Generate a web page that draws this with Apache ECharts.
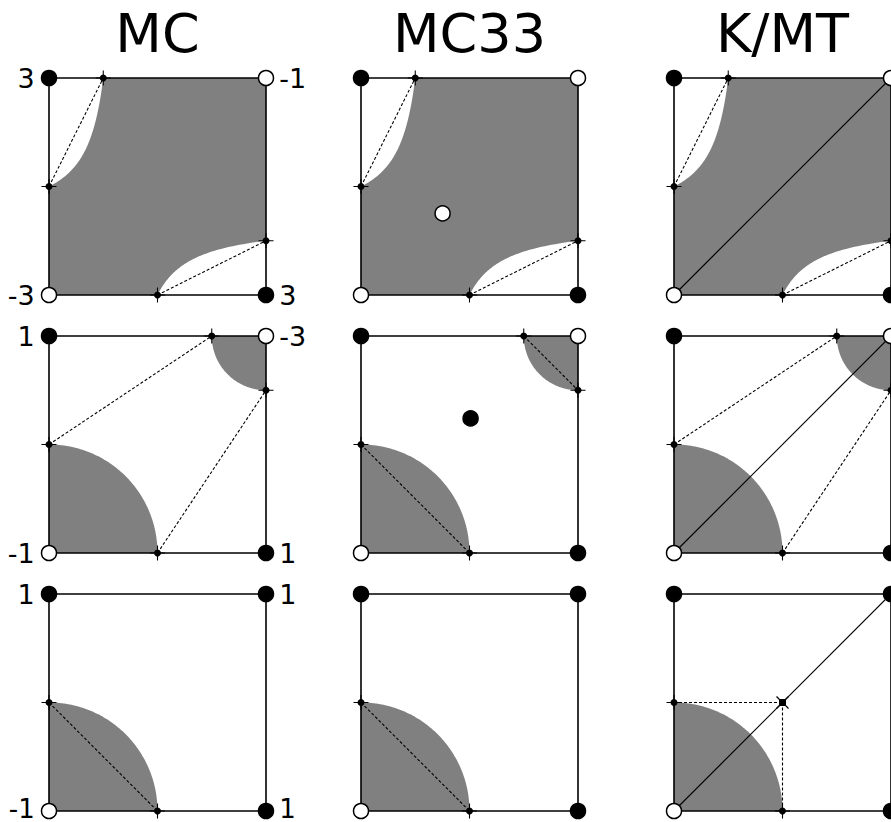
<!DOCTYPE html>
<html>
<head>
<meta charset="utf-8">
<title>MC / MC33 / K/MT</title>
<script src="https://cdn.jsdelivr.net/npm/echarts@6/dist/echarts.min.js"></script>
<style>
  html, body { margin: 0; padding: 0; background: #fff; }
  #chart { width: 891px; height: 822px; }
</style>
</head>
<body>
<div id="chart"></div>
<script>
// column titles
const titles = ['MC', 'MC33', 'K/MT'];
// corner values per row: [TL, TR, BL, BR]
const cornerValues = [
  [3, -1, -3, 3],
  [1, -3, -1, 1],
  [1, 1, -1, 1]
];
// edge crossings, as a fraction along the edge (from the bottom / from the left)
const leftCross = [0.5, 0.5, 0.5];
const topCross = [0.25, 0.75, null];
const rightCross = [0.25, 0.75, null];
const bottomCross = [0.5, 0.5, 0.5];
// how the gray part of each row is shaded
const shading = ['bilinear', 'discs', 'discs'];
// extra points of the MC33 column: [u, v, sign]
const mc33Points = [[0.376, 0.376, -1], [0.505, 0.62, 1], null];

// panel layout
const colLeft = [49, 361, 674];
const rowTop = [78, 336, 594];
const size = 217;

const FONT = 'DejaVu Sans';
const GRAY = '#808080';
const cornerPos = [[0, 1], [1, 1], [0, 0], [1, 0]];

// gray area of one row
function grayPolygons(r) {
  const vl = leftCross[r], ub = bottomCross[r], ut = topCross[r], vr = rightCross[r];
  const N = 80;
  if (shading[r] === 'bilinear') {
    // bilinear field through the four crossings, negative part is gray
    const a = -1;
    const c = a * (1 - 1 / vl);
    const b = a * (1 - 1 / ub);
    const d = c * (1 - 1 / ut);
    const uAt = v => -(a * (1 - v) + c * v) / ((b - a) * (1 - v) + (d - c) * v);
    const pts = [[0, 0], [0, vl]];
    for (let i = 1; i < N; i++) {
      const v = vl + (1 - vl) * i / N;
      pts.push([uAt(v), v]);
    }
    pts.push([ut, 1], [1, 1], [1, vr]);
    for (let i = 1; i < N; i++) {
      const v = vr - vr * i / N;
      pts.push([uAt(v), v]);
    }
    pts.push([ub, 0]);
    return [pts];
  }
  const polys = [];
  const r1 = vl;
  const low = [[0, 0]];
  for (let i = 0; i <= N; i++) {
    const t = Math.PI / 2 * i / N;
    low.push([r1 * Math.sin(t), r1 * Math.cos(t)]);
  }
  polys.push(low);
  if (ut != null) {
    const r2 = 1 - ut;
    const high = [[1, 1]];
    for (let i = 0; i <= N; i++) {
      const t = Math.PI / 2 * i / N;
      high.push([1 - r2 * Math.cos(t), 1 - r2 * Math.sin(t)]);
    }
    polys.push(high);
  }
  return polys;
}

// dashed chords of one panel
function chords(r, col) {
  const vl = leftCross[r], ub = bottomCross[r], ut = topCross[r], vr = rightCross[r];
  if (r === 2) {
    if (col === 2) return [[[0, vl], [ub, vl]], [[ub, vl], [ub, 0]]];
    return [[[0, vl], [ub, 0]]];
  }
  if (r === 1 && col === 1) return [[[0, vl], [ub, 0]], [[ut, 1], [1, vr]]];
  return [[[0, vl], [ut, 1]], [[ub, 0], [1, vr]]];
}

function crossings(r) {
  const pts = [[0, leftCross[r]], [bottomCross[r], 0]];
  if (topCross[r] != null) pts.push([topCross[r], 1]);
  if (rightCross[r] != null) pts.push([1, rightCross[r]]);
  return pts;
}

const PLUS = 'path://M0,6.5L14,6.5L14,7.5L0,7.5Z M6.5,0L7.5,0L7.5,14L6.5,14Z';
const BLACK = { color: '#000', opacity: 1 };

const grids = [], xAxes = [], yAxes = [], series = [];

for (let r = 0; r < 3; r++) {
  for (let col = 0; col < 3; col++) {
    const gi = r * 3 + col;
    grids.push({ left: colLeft[col], top: rowTop[r], width: size, height: size });
    xAxes.push({ gridIndex: gi, type: 'value', min: 0, max: 1, show: false });
    yAxes.push({ gridIndex: gi, type: 'value', min: 0, max: 1, show: false });

    const polys = grayPolygons(r);
    series.push({
      type: 'custom', xAxisIndex: gi, yAxisIndex: gi, silent: true, z: 1,
      data: polys.map((p, i) => i),
      renderItem: (params, api) => ({
        type: 'polygon',
        shape: { points: polys[params.dataIndex].map(p => api.coord(p)) },
        style: { fill: GRAY }
      })
    });

    // square outline
    series.push({
      type: 'custom', xAxisIndex: gi, yAxisIndex: gi, silent: true, z: 2,
      data: [0],
      renderItem: (params, api) => ({
        type: 'polygon',
        shape: { points: [[0, 0], [1, 0], [1, 1], [0, 1]].map(p => api.coord(p)) },
        style: { fill: 'none', stroke: '#000', lineWidth: 1.6 }
      })
    });

    const segs = chords(r, col);
    series.push({
      type: 'custom', xAxisIndex: gi, yAxisIndex: gi, silent: true, z: 3,
      data: segs.map((s, i) => i),
      renderItem: (params, api) => {
        const s = segs[params.dataIndex];
        const p1 = api.coord(s[0]), p2 = api.coord(s[1]);
        return {
          type: 'line',
          shape: { x1: p1[0], y1: p1[1], x2: p2[0], y2: p2[1] },
          style: { stroke: '#000', lineWidth: 1.1, lineDash: [3, 2] }
        };
      }
    });

    if (col === 2) {
      series.push({
        type: 'line', xAxisIndex: gi, yAxisIndex: gi, silent: true, z: 3,
        data: [[0, 0], [1, 1]], symbol: 'none',
        lineStyle: { color: '#000', width: 1.2 }
      });
    }

    // edge crossings
    const cp = crossings(r);
    series.push({
      type: 'scatter', xAxisIndex: gi, yAxisIndex: gi, silent: true, z: 4,
      data: cp, symbol: PLUS, symbolSize: 15, itemStyle: BLACK
    });
    series.push({
      type: 'scatter', xAxisIndex: gi, yAxisIndex: gi, silent: true, z: 4,
      data: cp, symbol: 'circle', symbolSize: 7, itemStyle: BLACK
    });
    if (r === 2 && col === 2) {
      const mid = [[bottomCross[r], leftCross[r]]];
      series.push({
        type: 'scatter', xAxisIndex: gi, yAxisIndex: gi, silent: true, z: 4,
        data: mid, symbol: PLUS, symbolSize: 17, symbolRotate: 45, itemStyle: BLACK
      });
      series.push({
        type: 'scatter', xAxisIndex: gi, yAxisIndex: gi, silent: true, z: 4,
        data: mid, symbol: 'rect', symbolSize: 7, itemStyle: BLACK
      });
    }

    // corners (filled = positive, open = negative)
    const corners = cornerValues[r].map((val, k) => {
      const atBottomEdge = r === 2 && k >= 2;
      return {
        value: cornerPos[k],
        itemStyle: { color: val > 0 ? '#000' : '#fff' },
        label: {
          show: col === 0,
          position: k % 2 === 0 ? 'left' : 'right',
          distance: k % 2 === 0 ? 6 : 5,
          offset: atBottomEdge ? [0, -2] : [0, 0],
          fontSize: atBottomEdge ? 26 : 27,
          formatter: String(val)
        }
      };
    });
    if (col === 1 && mc33Points[r]) {
      const m = mc33Points[r];
      corners.push({
        value: [m[0], m[1]],
        itemStyle: { color: m[2] > 0 ? '#000' : '#fff' },
        label: { show: false }
      });
    }
    series.push({
      type: 'scatter', xAxisIndex: gi, yAxisIndex: gi, silent: true, z: 5,
      data: corners, symbol: 'circle', symbolSize: 15,
      itemStyle: { borderColor: '#000', borderWidth: 1.5, opacity: 1 },
      label: { color: '#000', fontSize: 27, lineHeight: 20, fontFamily: FONT }
    });
  }
}

const chart = echarts.init(document.getElementById('chart'), null, { renderer: 'svg' });
chart.setOption({
  backgroundColor: '#fff',
  animation: false,
  grid: grids,
  xAxis: xAxes,
  yAxis: yAxes,
  graphic: titles.map((t, i) => ({
    type: 'text',
    x: colLeft[i] + size / 2,
    y: 33,
    style: {
      text: t, fill: '#000', fontSize: 54, fontFamily: FONT,
      align: 'center', verticalAlign: 'middle'
    }
  })),
  series: series
});
</script>
</body>
</html>
